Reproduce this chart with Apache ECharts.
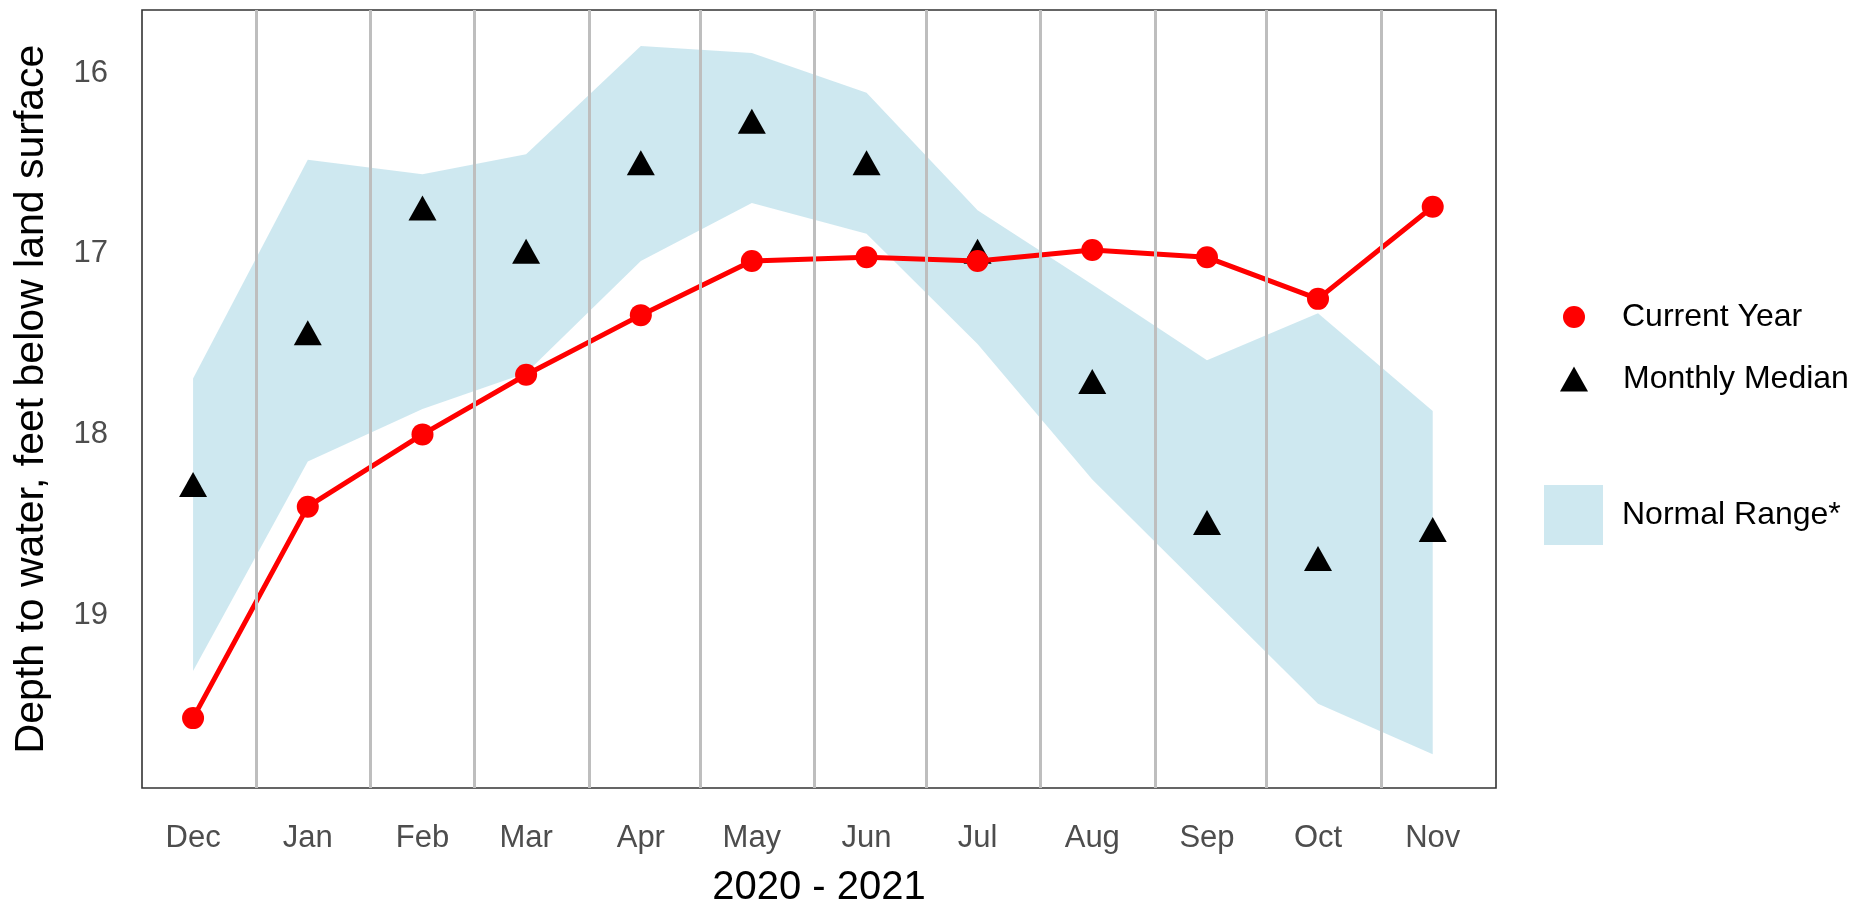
<!DOCTYPE html>
<html>
<head>
<meta charset="utf-8">
<title>Depth to water 2020 - 2021</title>
<script src="https://cdn.jsdelivr.net/npm/echarts@6/dist/echarts.min.js"></script>
<style>
  html, body { margin: 0; padding: 0; background: #ffffff; }
  #chart { width: 1855px; height: 907px; }
</style>
</head>
<body>
<div id="chart"></div>
<script>
// Month labels and the mid-month dates the monthly values belong to
const months = ['Dec', 'Jan', 'Feb', 'Mar', 'Apr', 'May', 'Jun', 'Jul', 'Aug', 'Sep', 'Oct', 'Nov'];
const midDates = ['2020-12-15', '2021-01-15', '2021-02-15', '2021-03-15', '2021-04-15', '2021-05-15',
                  '2021-06-15', '2021-07-15', '2021-08-15', '2021-09-15', '2021-10-15', '2021-11-15'];
// Month boundaries (vertical guide lines)
const monthStarts = ['2021-01-01', '2021-02-01', '2021-03-01', '2021-04-01', '2021-05-01', '2021-06-01',
                     '2021-07-01', '2021-08-01', '2021-09-01', '2021-10-01', '2021-11-01'];

// Depth to water, feet below land surface
const currentYear   = [19.57, 18.40, 18.00, 17.67, 17.34, 17.04, 17.02, 17.04, 16.98, 17.02, 17.25, 16.74];
const monthlyMedian = [18.30, 17.46, 16.77, 17.01, 16.52, 16.29, 16.52, 17.01, 17.73, 18.51, 18.71, 18.55];
// Normal range: shallow and deep limits
const rangeShallow  = [17.69, 16.48, 16.56, 16.45, 15.85, 15.89, 16.11, 16.76, 17.17, 17.59, 17.33, 17.87];
const rangeDeep     = [19.31, 18.15, 17.86, 17.66, 17.04, 16.72, 16.89, 17.50, 18.25, 18.88, 19.49, 19.77];

const yTicks = [16, 17, 18, 19];

const FONT = '"Liberation Sans", Arial, sans-serif';
// dates are placed on a linear axis measured in days
const DAY = 24 * 3600 * 1000;
const dayOf = d => Date.parse(d + 'T00:00:00Z') / DAY;
const midDays = midDates.map(dayOf);

const bandColor = 'rgba(173, 216, 230, 0.6)';
const triSize = [28, 25];

const chart = echarts.init(document.getElementById('chart'), null, { renderer: 'canvas' });

// Normal range drawn as one polygon: shallow limit forward, deep limit back
function renderRange(params, api) {
  if (params.dataIndex !== 0) return null;
  const pts = [];
  for (let i = 0; i < midDays.length; i++) pts.push(api.coord([midDays[i], rangeShallow[i]]));
  for (let i = midDays.length - 1; i >= 0; i--) pts.push(api.coord([midDays[i], rangeDeep[i]]));
  return {
    type: 'polygon',
    shape: { points: pts },
    style: { fill: bandColor },
    silent: true
  };
}

chart.setOption({
  animation: false,
  backgroundColor: '#ffffff',
  textStyle: { fontFamily: FONT },
  grid: {
    left: 142, right: 359, top: 10, bottom: 119,
    outerBoundsMode: 'none',
    containLabel: false,
    show: true, borderColor: '#333333', borderWidth: 1.6, backgroundColor: 'transparent'
  },
  xAxis: {
    type: 'value',
    min: dayOf('2020-12-01') + 0.2,
    max: dayOf('2021-12-02') + 0.1,
    axisLine: { show: false },
    axisTick: { show: false },
    splitLine: { show: false },
    axisLabel: {
      customValues: midDays,
      formatter: v => months[midDays.indexOf(v)] || '',
      color: '#4d4d4d',
      fontSize: 31,
      fontFamily: FONT,
      margin: 35
    },
    name: '2020 - 2021',
    nameLocation: 'middle',
    nameGap: 80,
    nameTextStyle: { color: '#000000', fontSize: 40, fontFamily: FONT }
  },
  yAxis: {
    type: 'value',
    inverse: true,
    min: 15.6514,
    max: 19.9568,
    axisLine: { show: false },
    axisTick: { show: false },
    splitLine: { show: false },
    axisLabel: {
      customValues: yTicks,
      color: '#4d4d4d',
      fontSize: 31,
      fontFamily: FONT,
      margin: 34
    },
    name: 'Depth to water, feet below land surface',
    nameLocation: 'middle',
    nameGap: 90,
    nameTextStyle: { color: '#000000', fontSize: 41, fontFamily: FONT }
  },
  legend: [
    {
      left: 1558, top: 296, orient: 'vertical',
      itemWidth: 22, itemHeight: 22,
      data: [{ name: 'Current Year', icon: 'circle' }],
      textStyle: { color: '#000000', fontSize: 32, fontFamily: FONT, padding: [0, 0, 0, 32] },
      selectedMode: false
    },
    {
      left: 1555, top: 358, orient: 'vertical',
      itemWidth: triSize[0], itemHeight: triSize[1],
      data: [{ name: 'Monthly Median', icon: 'triangle' }],
      textStyle: { color: '#000000', fontSize: 32, fontFamily: FONT, padding: [0, 0, 0, 30] },
      selectedMode: false
    },
    {
      left: 1539, top: 480, orient: 'vertical',
      itemWidth: 59, itemHeight: 60,
      data: [{ name: 'Normal Range*', icon: 'rect' }],
      textStyle: { color: '#000000', fontSize: 32, fontFamily: FONT, padding: [0, 0, 0, 14] },
      selectedMode: false
    }
  ],
  series: [
    {
      // month boundary guide lines
      name: 'monthLines',
      type: 'line',
      z: 1,
      data: [],
      silent: true,
      markLine: {
        silent: true,
        symbol: ['none', 'none'],
        label: { show: false },
        lineStyle: { color: '#bebebe', width: 3, type: 'solid' },
        emphasis: { disabled: true },
        data: monthStarts.map(d => ({ xAxis: dayOf(d) }))
      }
    },
    {
      name: 'Normal Range*',
      type: 'custom',
      z: 2,
      renderItem: renderRange,
      data: midDays.map((t, i) => [t, rangeShallow[i], rangeDeep[i]]),
      encode: { x: 0, y: [1, 2] },
      itemStyle: { color: bandColor },
      silent: true
    },
    {
      name: 'Monthly Median',
      type: 'scatter',
      z: 3,
      data: midDays.map((t, i) => [t, monthlyMedian[i]]),
      symbol: 'triangle',
      symbolSize: triSize,
      symbolOffset: [0, -triSize[1] / 6],
      itemStyle: { color: '#000000', opacity: 1 },
      silent: true
    },
    {
      name: 'Current Year',
      type: 'line',
      z: 4,
      data: midDays.map((t, i) => [t, currentYear[i]]),
      symbol: 'circle',
      symbolSize: 22,
      showAllSymbol: true,
      lineStyle: { color: '#ff0000', width: 5 },
      itemStyle: { color: '#ff0000', opacity: 1 },
      silent: true
    }
  ]
});
</script>
</body>
</html>
